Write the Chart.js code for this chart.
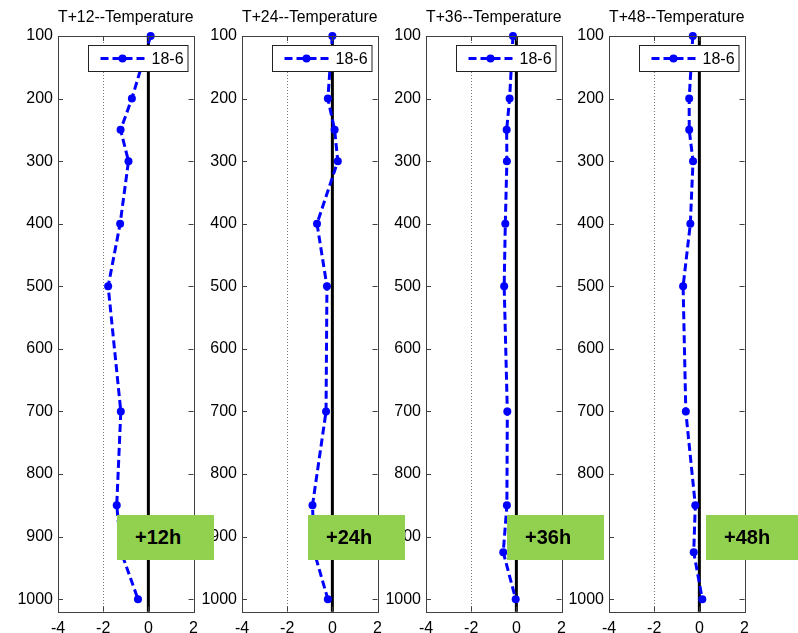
<!DOCTYPE html>
<html lang="en">
<head>
<meta charset="UTF-8">
<title>Temperature</title>
<script src="https://cdn.jsdelivr.net/npm/chart.js@4.4.0/dist/chart.umd.min.js"></script>
<style>
    body { margin: 0; background: #fff; width: 798px; height: 633px; position: relative; overflow: hidden;
           font-family: "Liberation Sans", Arial, sans-serif; }
    canvas { position: absolute; top: 0; }
    .tag { position: absolute; top: 515px; height: 45px; width: 97px; background: #92d050; color: #000;
           font-weight: bold; font-size: 20px; line-height: 45px; padding-left: 18px; box-sizing: border-box; z-index: 5; }
</style>
</head>
<body>
    <canvas id="c0" width="197" height="633" style="left:8px"></canvas>
    <canvas id="c1" width="197" height="633" style="left:192px"></canvas>
    <canvas id="c2" width="197" height="633" style="left:376px"></canvas>
    <canvas id="c3" width="197" height="633" style="left:559px"></canvas>
    <div class="tag" id="tag0" style="left:117px"></div>
    <div class="tag" id="tag1" style="left:308px"></div>
    <div class="tag" id="tag2" style="left:507px"></div>
    <div class="tag" id="tag3" style="left:706px"></div>

<script>
// pressure levels (hPa) and axis ticks
const levels = [100, 200, 250, 300, 400, 500, 700, 850, 925, 1000];
const yTicks = [100, 200, 300, 400, 500, 600, 700, 800, 900, 1000];
const xTicks = [-4, -2, 0, 2];
const titles = ['T+12--Temperature', 'T+24--Temperature', 'T+36--Temperature', 'T+48--Temperature'];
const tags = ['+12h', '+24h', '+36h', '+48h'];
const seriesLabel = '18-6';

// temperature difference per level, one array per lead time
const t12 = [0.1, -0.73, -1.23, -0.88, -1.25, -1.78, -1.22, -1.40, -1.2, -0.46];
const t24 = [0.0, -0.2, 0.1, 0.24, -0.68, -0.24, -0.28, -0.88, -0.8, -0.2];
const t36 = [-0.15, -0.3, -0.43, -0.42, -0.49, -0.54, -0.4, -0.42, -0.58, -0.03];
const t48 = [-0.29, -0.45, -0.45, -0.28, -0.4, -0.72, -0.6, -0.18, -0.25, 0.13];
const series = [t12, t24, t36, t48];

const FONT = '"Liberation Sans", Arial, sans-serif';
const BLUE = '#0000ff';
const AXIS = '#404040';

// matlab-like decorations: zero line, dotted -2 line, box, inward ticks, legend
const matlabBox = {
    id: 'matlabBox',
    beforeDatasetsDraw(chart) {
        const { ctx, chartArea: a, scales: { x } } = chart;
        ctx.save();
        let px = x.getPixelForValue(-2);
        ctx.strokeStyle = '#777';
        ctx.lineWidth = 1;
        ctx.setLineDash([1, 2]);
        ctx.beginPath();
        ctx.moveTo(Math.round(px) + 0.5, a.top);
        ctx.lineTo(Math.round(px) + 0.5, a.bottom);
        ctx.stroke();
        ctx.setLineDash([]);
        px = x.getPixelForValue(0);
        ctx.strokeStyle = '#000';
        ctx.lineWidth = 3;
        ctx.beginPath();
        ctx.moveTo(px, a.top);
        ctx.lineTo(px, a.bottom);
        ctx.stroke();
        ctx.restore();
    },
    afterDatasetsDraw(chart) {
        const { ctx, chartArea: a, scales: { x, y } } = chart;
        ctx.save();
        ctx.strokeStyle = AXIS;
        ctx.lineWidth = 1;
        ctx.strokeRect(Math.round(a.left) + 0.5, Math.round(a.top) + 0.5,
            Math.round(a.right - a.left), Math.round(a.bottom - a.top));
        const tl = 5;
        ctx.beginPath();
        y.ticks.forEach(t => {
            const py = Math.round(y.getPixelForValue(t.value)) + 0.5;
            ctx.moveTo(a.left, py); ctx.lineTo(a.left + tl, py);
            ctx.moveTo(a.right, py); ctx.lineTo(a.right - tl, py);
        });
        x.ticks.forEach(t => {
            const px = Math.round(x.getPixelForValue(t.value)) + 0.5;
            ctx.moveTo(px, a.bottom); ctx.lineTo(px, a.bottom - tl);
            ctx.moveTo(px, a.top); ctx.lineTo(px, a.top + tl);
        });
        ctx.stroke();

        // legend
        const w = 99.5, h = 26;
        const lx = Math.round(a.right - 6.5 - w) + 0.5, ly = Math.round(a.top + 9) + 0.5;
        ctx.fillStyle = '#fff';
        ctx.fillRect(lx, ly, w, h);
        ctx.strokeStyle = '#222';
        ctx.strokeRect(lx, ly, w, h);
        const cy = ly + h / 2;
        ctx.strokeStyle = BLUE;
        ctx.lineWidth = 3;
        ctx.setLineDash([8, 4]);
        ctx.beginPath();
        ctx.moveTo(lx + 12, cy); ctx.lineTo(lx + 58, cy);
        ctx.stroke();
        ctx.setLineDash([]);
        ctx.fillStyle = BLUE;
        ctx.beginPath();
        ctx.arc(lx + 34, cy, 4, 0, Math.PI * 2);
        ctx.fill();
        ctx.fillStyle = '#000';
        ctx.font = '16px ' + FONT;
        ctx.textBaseline = 'middle';
        ctx.textAlign = 'left';
        ctx.fillText(chart.data.datasets[0].label, lx + 63, cy + 1);
        ctx.restore();
    }
};

function makePanel(i) {
    const ctx = document.getElementById('c' + i).getContext('2d');
    document.getElementById('tag' + i).textContent = tags[i];
    return new Chart(ctx, {
        type: 'line',
        data: {
            datasets: [{
                label: seriesLabel,
                data: levels.map((p, k) => ({ x: series[i][k], y: p })),
                borderColor: BLUE,
                backgroundColor: BLUE,
                borderWidth: 3,
                borderDash: [8, 4],
                pointRadius: 4,
                pointBorderWidth: 0,
                pointBackgroundColor: BLUE,
                tension: 0,
                fill: false,
                clip: false
            }]
        },
        options: {
            responsive: false,
            animation: false,
            devicePixelRatio: 1,
            layout: { padding: { left: 0, right: 10.5, top: 0, bottom: 0 } },
            plugins: {
                legend: { display: false },
                tooltip: { enabled: false },
                title: {
                    display: true,
                    fullSize: false,
                    text: titles[i],
                    color: '#000',
                    font: { family: FONT, size: 16, weight: 'normal' },
                    padding: { top: 8, bottom: 8.8 }
                }
            },
            scales: {
                x: {
                    type: 'linear',
                    min: -4,
                    max: 2,
                    afterBuildTicks: s => { s.ticks = xTicks.map(v => ({ value: v })); },
                    afterFit: s => { s.height = 21.3; },
                    grid: { display: false, drawTicks: false },
                    border: { display: false },
                    ticks: { color: '#000', font: { family: FONT, size: 16 }, padding: 7, maxRotation: 0,
                             callback: v => String(v) }
                },
                y: {
                    type: 'linear',
                    reverse: true,
                    min: 100,
                    max: 1020,
                    afterBuildTicks: s => { s.ticks = yTicks.map(v => ({ value: v })); },
                    afterFit: s => { s.width = 50; },
                    grid: { display: false, drawTicks: false },
                    border: { display: false },
                    ticks: { color: '#000', font: { family: FONT, size: 16 }, padding: 5,
                             callback: v => String(v) }
                }
            }
        },
        plugins: [matlabBox]
    });
}

for (let i = 0; i < 4; i++) makePanel(i);
</script>
</body>
</html>
